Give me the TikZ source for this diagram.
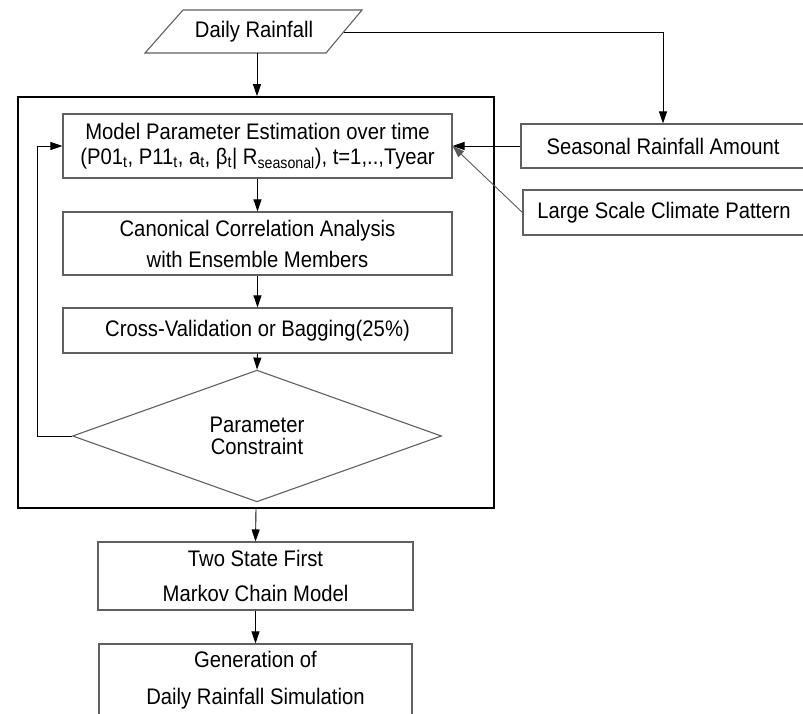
\documentclass[tikz,border=0pt]{standalone}
\usepackage{fontspec}
\setmainfont{Liberation Sans}[FakeStretch=0.9]
\usetikzlibrary{arrows.meta, shapes.geometric}

\begin{document}
\begin{tikzpicture}[x=1pt, y=-1pt,
  every node/.style={font=\fontsize{22.5}{25}\selectfont},
  box/.style={draw=gray!75!black, line width=1.1pt, inner sep=0pt, align=center},
  link/.style={-{Triangle[length=12pt,width=8pt]}, line width=0.9pt, black}]
  \useasboundingbox (0,0) rectangle (803,714);
  % frame round the estimation loop
  \node[draw, line width=1.6pt, minimum width=476pt, minimum height=411pt] (frame) at (256,302.5) {};
  % input
  \draw[box] (183,10) -- (362,10) -- (326,53) -- (145,53) -- cycle;
  \node (rain) at (254,31.5) {Daily Rainfall};
  \coordinate (rainfoot) at (257,53);
  \coordinate (rainside) at (344,32);
  % inside the frame
  \node[box, minimum width=389pt, minimum height=64pt] (est) at (257.5,146)
    {Model Parameter Estimation over time\\(P01\textsubscript{t}, P11\textsubscript{t}, a\textsubscript{t}, β\textsubscript{t}| R\textsubscript{seasonal}), t=1,..,Tyear};
  \node[box, minimum width=389pt, minimum height=63pt, font=\fontsize{22.5}{31}\selectfont] (cca) at (257.5,243.5)
    {Canonical Correlation Analysis\\with Ensemble Members};
  \node[box, minimum width=389pt, minimum height=45pt] (cv) at (257.5,330.5) {Cross-Validation or Bagging(25\%)};
  \node[box, diamond, minimum width=369pt, minimum height=103pt, font=\fontsize{22.5}{21.5}\selectfont] (check) at (257,436)
    {Parameter\\Constraint};
  % outputs
  \node[box, minimum width=315pt, minimum height=68pt, font=\fontsize{22.5}{35}\selectfont] (markov) at (255.5,576)
    {Two State First\\Markov Chain Model};
  \node[box, minimum width=313pt, minimum height=72pt, font=\fontsize{22.5}{37}\selectfont] (gen) at (255.5,680)
    {Generation of\\Daily Rainfall Simulation};
  % predictors
  \node[box, minimum width=284pt, minimum height=44pt] (season) at (663,146) {Seasonal Rainfall Amount};
  \node[box, minimum width=282pt, minimum height=45pt] (climate) at (664,212.5) {Large Scale Climate Pattern};
  % connectors
  \draw[link] (rainfoot) -- (rainfoot |- frame.north);
  \draw[link] (rainside) -| (season.north);
  \draw[link] (season.west) -- (est.east);
  \draw[link, gray!70!black] (climate.west) -- (est.east);
  \draw[link] (est.south) -- (cca.north);
  \draw[link] (cca.south) -- (cv.north);
  \draw[link] (cv.south) -- (check.north);
  \draw[link] (check.west) -- ++(-35,0) |- (est.west);
  \draw[link] (frame.south) -- (markov.north);
  \draw[link] (markov.south) -- (gen.north);
\end{tikzpicture}
\end{document}
